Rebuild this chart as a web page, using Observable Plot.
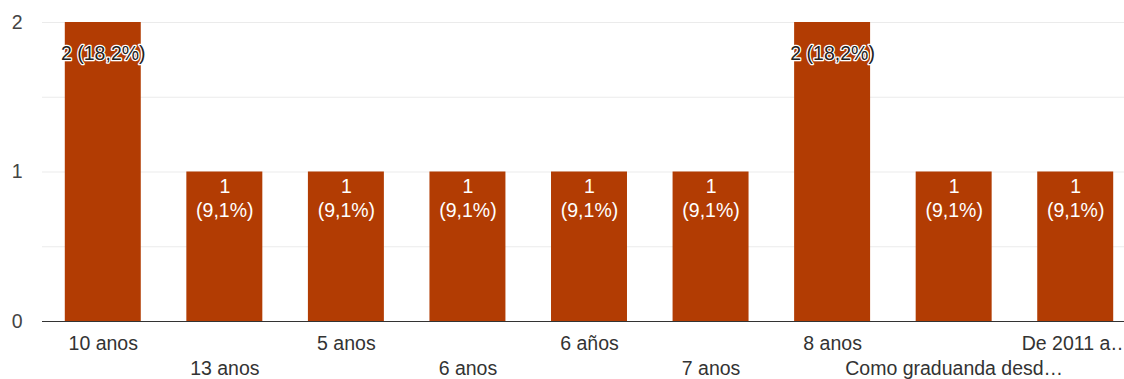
<!DOCTYPE html>
<html><head><meta charset="utf-8">
<script src="https://cdn.jsdelivr.net/npm/d3@7"></script>
<script src="https://cdn.jsdelivr.net/npm/@observablehq/plot@0.6"></script>
<style>
html,body{margin:0;padding:0;background:#fff;overflow:hidden;width:1124px;height:379px}
#chart svg{max-width:none!important;display:block}
</style></head><body><div id="chart"></div>
<script>
const categories = ["10 anos","13 anos","5 anos","6 anos","6 años","7 anos","8 anos","Como graduanda desd…","De 2011 a…"];
const counts = [2,1,1,1,1,1,2,1,1];
const percents = ["18,2%","9,1%","9,1%","9,1%","9,1%","9,1%","18,2%","9,1%","9,1%"];
const yTicks = [0,1,2];
const gridTicks = [0.5,1,1.5,2];

const data = categories.map((c,i)=>({cat:c,count:counts[i],pct:percents[i],i}));
const font = "Liberation Sans, Arial, sans-serif";
const barColor = "#b23c03";
const fs = 19.5;

const chart = Plot.plot({
  width: 1136, height: 379,
  marginLeft: 42, marginRight: 0, marginTop: 22, marginBottom: 58,
  style: {fontFamily: font, fontSize: fs + "px", background: "#fff", overflow: "visible"},
  x: {domain: categories, paddingInner: 0.375, paddingOuter: 0.1875, round: false, axis: null},
  y: {domain: [0,2]},
  marks: [
    Plot.ruleY(gridTicks, {stroke: "#ebebeb", strokeWidth: 1}),
    Plot.axisY(yTicks, {tickSize: 0, tickPadding: 20, fill: "#444", fontSize: fs, label: null, tickFormat: d => String(d)}),
    Plot.barY(data, {x: "cat", y: "count", fill: barColor}),
    Plot.ruleY([0], {stroke: "#333", strokeWidth: 1}),
    Plot.text(data.filter(d => d.count === 2), {x: "cat", y: "count", text: d => `${d.count} (${d.pct})`, dy: 31, fill: "#222", stroke: "#fff", strokeWidth: 2.5, fontSize: fs}),
    Plot.text(data.filter(d => d.count === 1), {x: "cat", y: "count", text: d => `${d.count}`, dy: 15, fill: "#fff", fontSize: fs}),
    Plot.text(data.filter(d => d.count === 1), {x: "cat", y: "count", text: d => `(${d.pct})`, dy: 39, fill: "#fff", fontSize: fs}),
    Plot.text(data.filter(d => d.i % 2 === 0), {x: "cat", y: 0, text: "cat", dy: 22, fill: "#333", fontSize: fs}),
    Plot.text(data.filter(d => d.i % 2 === 1), {x: "cat", y: 0, text: "cat", dy: 47, fill: "#333", fontSize: fs})
  ]
});
document.getElementById("chart").append(chart);
</script></body></html>
